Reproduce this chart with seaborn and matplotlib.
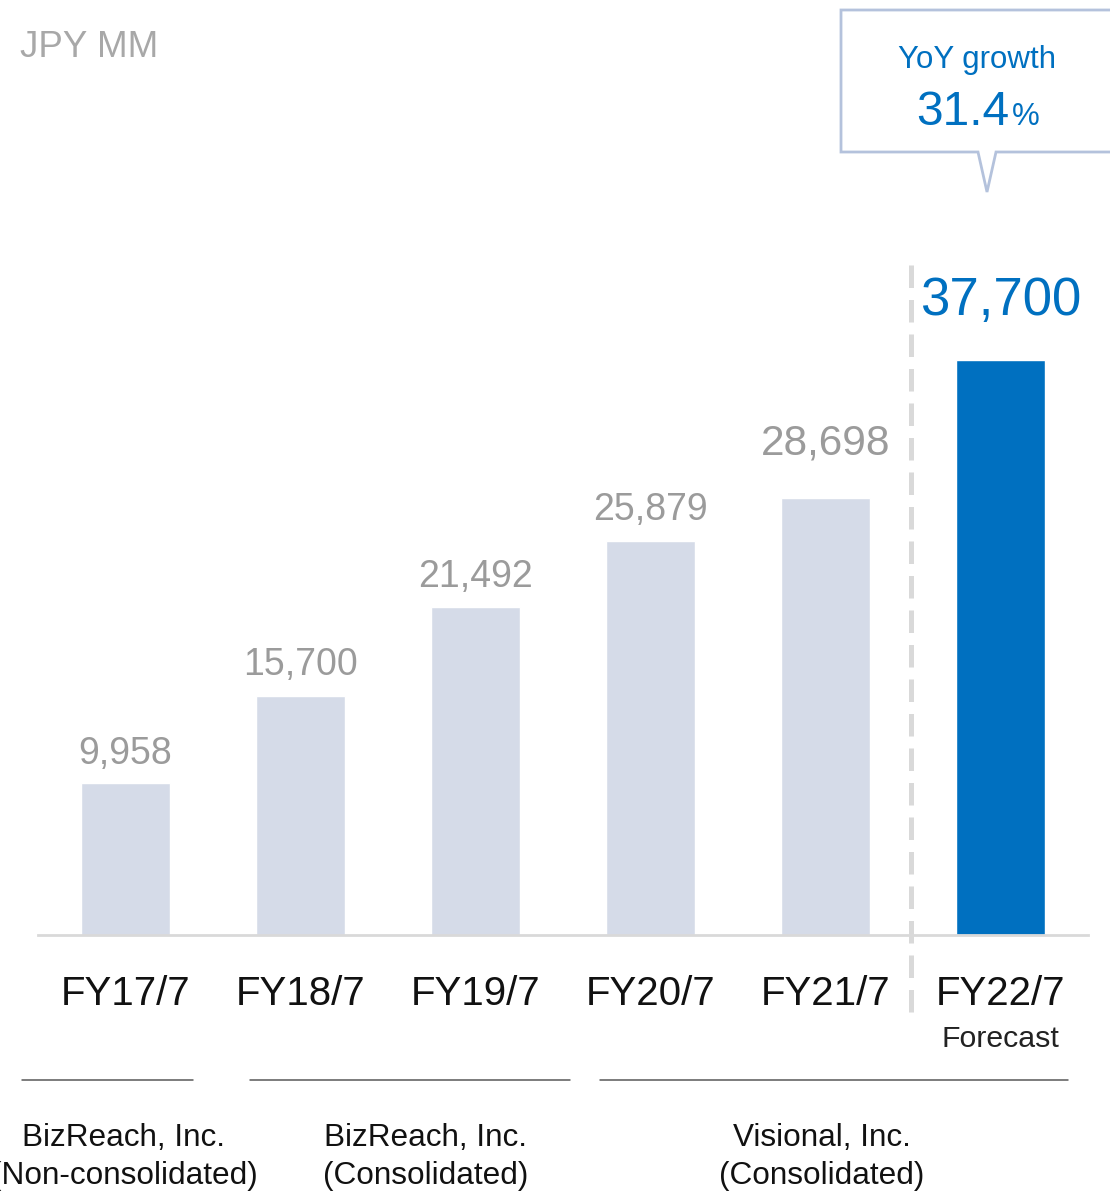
import matplotlib
matplotlib.use("Agg")
import matplotlib.pyplot as plt
import matplotlib.transforms as mtransforms
from matplotlib.path import Path
from matplotlib.patches import PathPatch
from matplotlib.lines import Line2D
import seaborn as sns
import pandas as pd

# ---------------- data ----------------
categories = ["FY17/7", "FY18/7", "FY19/7", "FY20/7", "FY21/7", "FY22/7"]
revenue = [9958, 15700, 21492, 25879, 28698, 37700]
value_labels = ["9,958", "15,700", "21,492", "25,879", "28,698", "37,700"]
forecast_note = "Forecast"
yoy_growth = 31.4
unit_label = "JPY MM"
group_line1 = ["BizReach, Inc.", "BizReach, Inc.", "Visional, Inc."]
group_line2 = ["(Non-consolidated)", "(Consolidated)", "(Consolidated)"]

# ---------------- style ----------------
W, H = 1110, 1193
LIGHT = "#D5DBE8"
BLUE = "#0070C0"
GRAY_TXT = "#9B9B9B"
bar_colors = [LIGHT] * 5 + [BLUE]
label_colors = [GRAY_TXT] * 5 + [BLUE]
label_sizes = [27, 27, 27, 27, 30.5, 38]
label_gaps_pt = [13.7, 15.1, 14.4, 15.1, 31.0, 32.4]

sns.set_theme(style="white")
plt.rcParams["font.family"] = ["Liberation Sans", "DejaVu Sans"]

fig = plt.figure(figsize=(W / 100, H / 100), dpi=100)
fig.patch.set_facecolor("white")
ax = fig.add_axes([38 / W, (H - 935) / H, (1088 - 38) / W, 935 / H])

df = pd.DataFrame({"cat": categories, "rev": revenue})
sns.barplot(data=df, x="cat", y="rev", hue="cat", palette=bar_colors,
            legend=False, width=0.505, ax=ax, saturation=1)

ax.set_xlim(-0.5, 5.5)
ax.set_ylim(0, 61350)
ax.set_xlabel("")
ax.set_ylabel("")
ax.set_yticks([])
for s in ["top", "left", "right"]:
    ax.spines[s].set_visible(False)
ax.spines["bottom"].set_color("#D9D9D9")
ax.spines["bottom"].set_linewidth(2)
ax.set_facecolor("none")

ax.set_xticks(range(len(categories)))
ax.set_xticklabels(categories, fontsize=29, color="#111111")
ax.tick_params(axis="x", length=0, pad=50.4)
for t in ax.get_xticklabels():
    t.set_verticalalignment("baseline")

# value labels
for i, (v, lab) in enumerate(zip(revenue, value_labels)):
    ax.annotate(lab, xy=(i, v), xytext=(0, label_gaps_pt[i]),
                textcoords="offset points", ha="center", va="baseline",
                fontsize=label_sizes[i], color=label_colors[i])

# pixel (top-origin) transform
pix = mtransforms.Affine2D().scale(1 / W, -1 / H).translate(0, 1) + fig.transFigure
blend = mtransforms.blended_transform_factory(ax.transData, pix)

# forecast note
ax.text(5, 1047, forecast_note, transform=blend, ha="center", va="baseline",
        fontsize=21.8, color="#222222")

# dashed separator
fig.add_artist(Line2D([4.486, 4.486], [265, 1020], transform=blend,
                      color="#D9D9D9", lw=3.6, linestyle=(0, (4.5, 2.4))))

# unit label
fig.text(20, 57, unit_label, transform=pix, ha="left", va="baseline",
         fontsize=26.5, color="#A8A8A8")

# callout box
verts = [(1125, 10), (841, 10), (841, 152), (978, 152), (987, 192),
         (996, 152), (1125, 152)]
codes = [Path.MOVETO] + [Path.LINETO] * 6
fig.add_artist(PathPatch(Path(verts, codes), facecolor="white",
                         edgecolor="#B4C2DC", lw=2, transform=pix))
fig.text(977, 68, "YoY growth", transform=pix, ha="center", va="baseline",
         fontsize=22.5, color=BLUE)
fig.text(1009, 125, f"{yoy_growth:.1f}", transform=pix, ha="right",
         va="baseline", fontsize=34.5, color=BLUE)
fig.text(1012, 125, "%", transform=pix, ha="left", va="baseline",
         fontsize=22.5, color=BLUE)

# group separators and labels
group_segments = [(22, 193), (250, 570), (600, 1068)]
group_centers = [124, 426, 822]
for (x0, x1), cx, l1, l2 in zip(group_segments, group_centers, group_line1, group_line2):
    fig.add_artist(Line2D([x0, x1], [1080, 1080], transform=pix,
                          color="#595959", lw=1.1))
    fig.text(cx, 1146, l1, transform=pix, ha="center", va="baseline",
             fontsize=22.7, color="#111111")
    fig.text(cx, 1184, l2, transform=pix, ha="center", va="baseline",
             fontsize=22.7, color="#111111")

fig.savefig("out.png", dpi=100, facecolor="white")
